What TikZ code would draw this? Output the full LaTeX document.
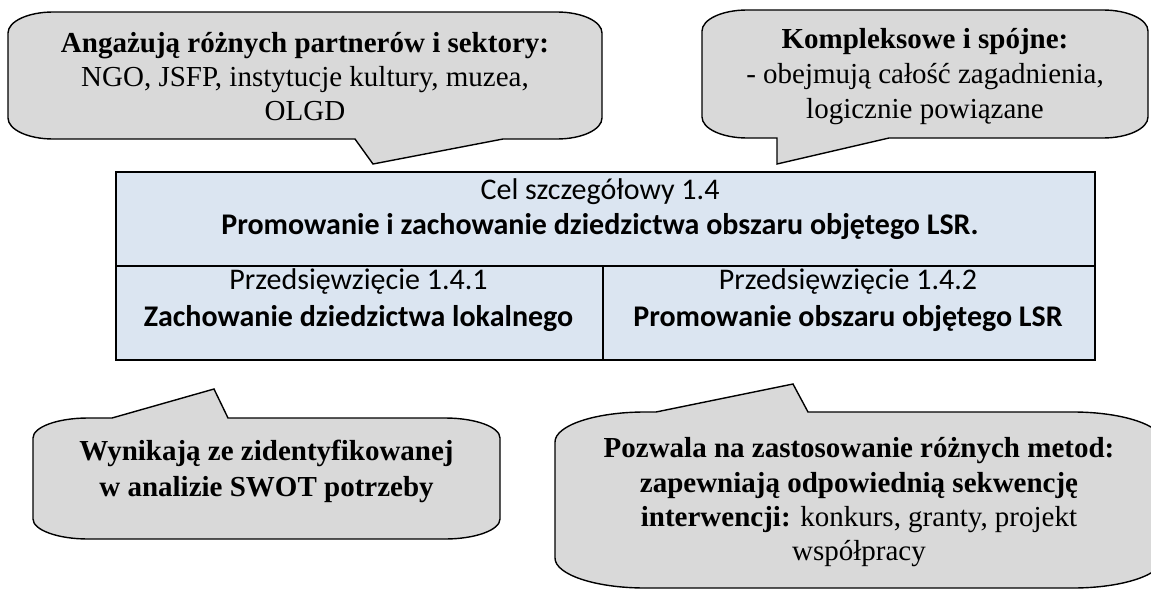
\documentclass[tikz,border=0pt]{standalone}
\usepackage{fontspec}
\setmainfont{Liberation Serif}
\newfontfamily\calibri{Carlito}
\definecolor{calloutgray}{HTML}{D9D9D9}
\definecolor{cellblue}{HTML}{DBE5F1}
\begin{document}
\begin{tikzpicture}[x=1pt,y=-1pt,
  bubble/.style={fill=calloutgray, draw=black, line width=1.4pt, line join=miter},
  cell/.style={draw=black, fill=cellblue, line width=1.7pt, anchor=north west, inner sep=0pt, minimum height=94pt},
  celltext/.style={font=\calibri\fontsize{30}{36}\selectfont, anchor=base, inner sep=0pt},
  bubbletext/.style={font=\fontsize{29}{35}\selectfont, anchor=base, inner sep=0pt}]
\useasboundingbox (0,0) rectangle (1151,589);
\clip (0,0) rectangle (1151,589);

% callout A (top left)
\path[bubble] (53,12) -- (557,12) .. controls (581.9,12) and (602,21.4) .. (602,33)
  -- (602,118) .. controls (602,129.6) and (581.9,139) .. (557,139)
  -- (503,139) -- (373,164) -- (355,139)
  -- (53,139) .. controls (28.1,139) and (8,129.6) .. (8,118)
  -- (8,33) .. controls (8,21.4) and (28.1,12) .. cycle;
% callout B (top right)
\path[bubble] (747,10) -- (1103,10) .. controls (1127.9,10) and (1148,19.4) .. (1148,31)
  -- (1148,117) .. controls (1148,128.6) and (1127.9,138) .. (1103,138)
  -- (889,138) -- (777,164) -- (777,138)
  -- (747,138) .. controls (722.1,138) and (702,128.6) .. (702,117)
  -- (702,31) .. controls (702,19.4) and (722.1,10) .. cycle;
% callout C (bottom left)
\path[bubble] (88,418) -- (112,418) -- (214,389) -- (228,418)
  -- (445,418) .. controls (475.4,418) and (500,427) .. (500,438)
  -- (500,519) .. controls (500,530) and (475.4,539) .. (445,539)
  -- (88,539) .. controls (57.6,539) and (33,530) .. (33,519)
  -- (33,438) .. controls (33,427) and (57.6,418) .. cycle;
% callout D (bottom right)
\path[bubble] (645,412) -- (656,412) -- (793,384) -- (808,412)
  -- (1073,412) .. controls (1122.7,412) and (1163,425.4) .. (1163,442)
  -- (1163,558) .. controls (1163,574.6) and (1122.7,588) .. (1073,588)
  -- (645,588) .. controls (595.3,588) and (555,574.6) .. (555,558)
  -- (555,442) .. controls (555,425.4) and (595.3,412) .. cycle;

% table
\node[cell, minimum width=979pt] (goal) at (115,171) {};
\node[cell, minimum width=487pt] (pa) at (115,265) {};
\node[cell, minimum width=492pt] (pb) at (602,265) {};

\node[celltext] (g1) at (600,199) {Cel szczegółowy 1.4};
\node[celltext] (g2) at (600,234) {\bfseries Promowanie i zachowanie dziedzictwa obszaru objętego LSR.};
\node[celltext] (a1) at (358.5,289) {Przedsięwzięcie 1.4.1};
\node[celltext] (a2) at (358.5,326) {\bfseries Zachowanie dziedzictwa lokalnego};
\node[celltext] (b1) at (848,289) {Przedsięwzięcie 1.4.2};
\node[celltext] (b2) at (848,326) {\bfseries Promowanie obszaru objętego LSR};

% callout texts
\node[bubbletext] (ta1) at (305,52) {\bfseries Angażują różnych partnerów i sektory:};
\node[bubbletext] (ta2) at (305,86) {NGO, JSFP, instytucje kultury, muzea,};
\node[bubbletext] (ta3) at (305,120) {OLGD};

\node[bubbletext] (tb1) at (925,48) {\bfseries Kompleksowe i spójne:};
\node[bubbletext] (tb2) at (925,83) {- obejmują całość zagadnienia,};
\node[bubbletext] (tb3) at (925,118) {logicznie powiązane};

\node[bubbletext] (tc1) at (266.5,460) {\bfseries Wynikają ze zidentyfikowanej};
\node[bubbletext] (tc2) at (266.5,496) {\bfseries w analizie SWOT potrzeby};

\node[bubbletext] (td1) at (859,457) {\bfseries Pozwala na zastosowanie różnych metod:};
\node[bubbletext] (td2) at (859,492) {\bfseries zapewniają odpowiednią sekwencję};
\node[bubbletext] (td3) at (859,526) {\textbf{interwencji:} konkurs, granty, projekt};
\node[bubbletext] (td4) at (859,560) {współpracy};
\end{tikzpicture}
\end{document}
